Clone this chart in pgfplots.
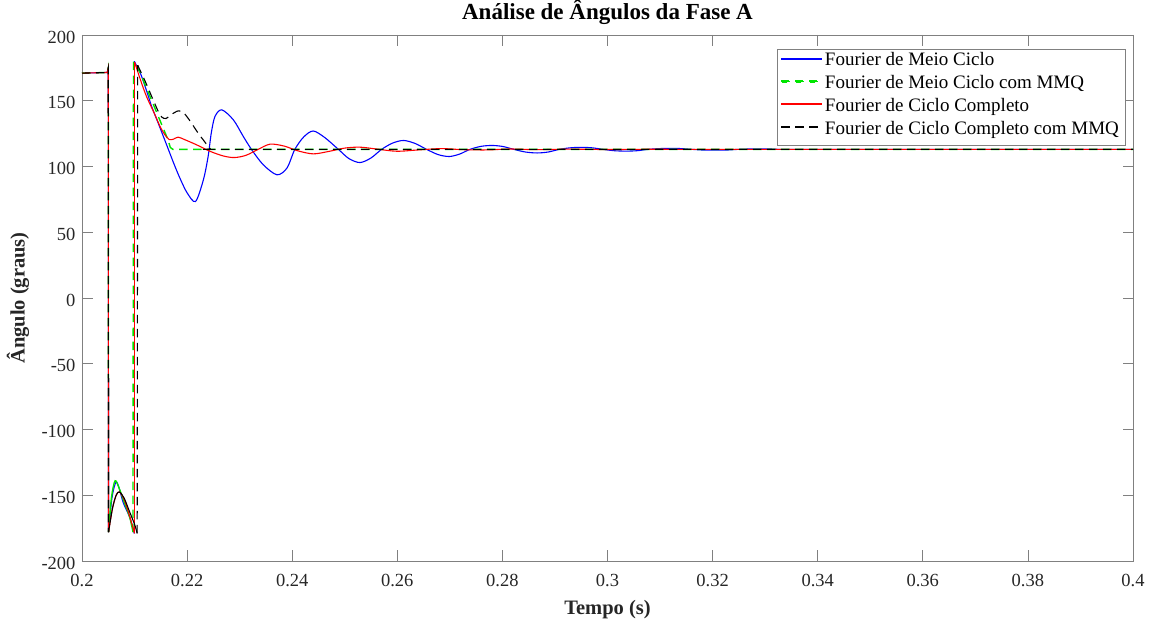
\documentclass[border=0pt]{standalone}
\usepackage{fontspec}
\setmainfont{Liberation Serif}
\usepackage{pgfplots}
\pgfplotsset{compat=1.18}
\definecolor{mblue}{rgb}{0,0,1}
\definecolor{mgreen}{rgb}{0,0.9,0}
\definecolor{mred}{rgb}{1,0,0}
\definecolor{axgray}{rgb}{0.5,0.5,0.5}
\definecolor{txtgray}{rgb}{0.15,0.15,0.15}
\begin{document}
\begin{tikzpicture}
\useasboundingbox (-82pt,-60pt) rectangle (1072pt,561pt);
\begin{axis}[
  at={(0pt,0pt)}, anchor=south west,
  scale only axis, width=1051pt, height=526pt,
  xmin=0.2, xmax=0.4, ymin=-200, ymax=200,
  xtick={0.2,0.22,0.24,0.26,0.28,0.3,0.32,0.34,0.36,0.38,0.4},
  xticklabels={0.2,0.22,0.24,0.26,0.28,0.3,0.32,0.34,0.36,0.38,0.4},
  ytick={-200,-150,-100,-50,0,50,100,150,200},
  yticklabels={-200,-150,-100,-50,0,50,100,150,200},
  tick align=inside, major tick length=10.5pt,
  axis line style={axgray, line width=0.8pt},
  every tick/.style={axgray, line width=0.8pt},
  ticklabel style={font=\fontsize{18.5}{20}\selectfont, text=txtgray},
  xticklabel style={yshift=-10pt},
  yticklabel style={xshift=-3pt, yshift=-2pt},
  every axis title shift=0pt,
  title={Análise de Ângulos da Fase A},
  title style={font=\bfseries\fontsize{23}{26}\selectfont, text=black, at={(axis description cs:0.5,1.0304)}, anchor=base},
  xlabel={Tempo (s)},
  xlabel style={font=\bfseries\fontsize{20.5}{24}\selectfont, text=txtgray, at={(axis description cs:0.5,-0.0920)}, anchor=center},
  ylabel={Ângulo (graus)},
  ylabel style={font=\bfseries\fontsize{20.5}{24}\selectfont, text=txtgray, at={(axis description cs:-0.0609,0.5)}, anchor=center, rotate=0},
  legend style={name=leg, at={(0.9924,0.9724)}, anchor=north east, draw=none, fill=white,
    font=\fontsize{19}{22}\selectfont,
    nodes={text height=11pt, text depth=6pt, inner sep=2.9pt}},
  legend cell align=left,
]
% ---------------- Blue: Fourier de Meio Ciclo ----------------
\addplot[mblue, line width=1.1pt,
  legend image code/.code={\fill[mblue] (0pt,3.95pt) rectangle (40pt,5.05pt);}] coordinates {
(0.2,171) (0.2048,171.5) (0.2050,175) (0.20505,-178)};
\addlegendentry{Fourier de Meio Ciclo}
\addplot[mblue, line width=1.1pt, smooth, forget plot] coordinates {
(0.20505,-178) (0.2057,-152) (0.20647,-140) (0.2071,-145) (0.20786,-155.8) (0.2091,-167) (0.20995,-179)};
\addplot[mblue, line width=1.1pt, forget plot] coordinates {
(0.20995,-179) (0.20995,180)};
\addplot[mblue, line width=1.1pt, smooth, forget plot] coordinates {
(0.20995,180) (0.2112,170) (0.2125,155) (0.21326,145.6) (0.2145,133) (0.2161,116.5) (0.2175,102)
(0.21865,91) (0.2200,80) (0.2216,73.4) (0.2231,89.9) (0.2240,107.6) (0.2246,125.4) (0.2253,138)
(0.2266,143.1) (0.2288,135.5) (0.2307,122.8) (0.2323,112.7) (0.2345,101.3) (0.2371,93.7) (0.2390,98.8)
(0.2405,113) (0.2422,122.5) (0.2440,127) (0.2462,122) (0.2488,113) (0.2508,106) (0.2529,103)
(0.2550,106.5) (0.2570,113) (0.2591,117.8) (0.2612,119.8) (0.2634,117.5) (0.2656,113) (0.2678,109)
(0.2699,107.6) (0.2719,109.5) (0.2738,113) (0.2759,115.3) (0.2780,116) (0.2801,115.2) (0.2822,113)
(0.2844,111) (0.2866,110.3) (0.2887,111) (0.2908,113) (0.2929,114.2) (0.2950,114.6) (0.2971,114.2)
(0.2992,113) (0.3013,112) (0.3035,111.7) (0.3056,112) (0.3077,113) (0.3098,113.6) (0.3120,113.8)
(0.3141,113.6) (0.3162,113) (0.3183,112.5) (0.3205,112.4) (0.3226,112.5) (0.3247,113) (0.3268,113.3)
(0.3290,113.4) (0.3311,113.3) (0.3332,113) (0.34,113) (0.37,113) (0.40,113)};

% ---------------- Green: Meio Ciclo com MMQ ----------------
\addplot[mgreen, line width=1.4pt, dash pattern=on 8.5pt off 5.5pt,
  legend image code/.code={\fill[fill=mgreen] (0pt,3.8pt) rectangle (8.5pt,5.2pt);
    \fill[fill=mgreen] (14pt,3.8pt) rectangle (22.5pt,5.2pt);
    \fill[fill=mgreen] (28pt,3.8pt) rectangle (36.5pt,5.2pt);}] coordinates {
(0.2,171) (0.2048,171.5) (0.2050,175) (0.20505,-178)};
\addlegendentry{Fourier de Meio Ciclo com MMQ}
\addplot[mgreen, line width=1.4pt, smooth, forget plot] coordinates {
(0.20505,-178) (0.2056,-152) (0.2063,-139) (0.2071,-145) (0.2081,-156) (0.2091,-167) (0.2097,-178)};
\addplot[mgreen, line width=1.4pt, dash pattern=on 8.5pt off 5.5pt, forget plot] coordinates {
(0.2097,-178) (0.2098,180) (0.2110,172) (0.2164,120) (0.2168,114.5) (0.2173,113) (0.25,113) (0.30,113) (0.35,113) (0.40,113)};

% ---------------- Red: Ciclo Completo ----------------
\addplot[mred, line width=1.1pt,
  legend image code/.code={\fill[mred] (0pt,3.95pt) rectangle (40pt,5.05pt);}] coordinates {
(0.2,171) (0.2048,171.5) (0.2050,175) (0.20505,-178)};
\addlegendentry{Fourier de Ciclo Completo}
\addplot[mred, line width=1.1pt, smooth, forget plot] coordinates {
(0.20505,-178) (0.2058,-160) (0.2065,-150) (0.2071,-147.5) (0.2080,-153) (0.2090,-165) (0.2100,-179)};
\addplot[mred, line width=1.1pt, forget plot] coordinates {
(0.2100,-179) (0.2100,179.5)};
\addplot[mred, line width=1.1pt, smooth, forget plot] coordinates {
(0.2100,179.5) (0.2112,165) (0.2123,153) (0.2137,141) (0.2149,130) (0.2158,124) (0.2166,120.5)
(0.2174,120.8) (0.2183,122.3) (0.2195,120.5) (0.2218,116.5) (0.2244,111.5) (0.2269,108) (0.2290,106.8)
(0.2312,108.5) (0.2335,113) (0.2358,117) (0.2385,115.5) (0.2410,112) (0.2440,109.6) (0.2470,111.5)
(0.2500,114) (0.2529,114.7) (0.2562,113.2) (0.2599,111.6) (0.2640,112.6) (0.2684,113.6) (0.2725,112.8)
(0.2770,112.6) (0.2815,113.3) (0.2865,112.8) (0.2930,113.2) (0.3000,112.9) (0.3080,113.1) (0.3200,113)
(0.35,113) (0.40,113)};

% ---------------- Black: Ciclo Completo com MMQ ----------------
\addplot[black, line width=1.1pt, dash pattern=on 8.5pt off 5.5pt,
  legend image code/.code={\fill[black] (0pt,3.95pt) rectangle (8.5pt,5.05pt);
    \fill[black] (14pt,3.95pt) rectangle (22.5pt,5.05pt);
    \fill[black] (28pt,3.95pt) rectangle (36.5pt,5.05pt);}] coordinates {
(0.2,171) (0.2048,171.5) (0.2050,175) (0.20505,-178)};
\addlegendentry{Fourier de Ciclo Completo com MMQ}
\addplot[black, line width=1.1pt, smooth, forget plot] coordinates {
(0.20505,-178) (0.2058,-160) (0.2065,-150) (0.2071,-147.5) (0.2080,-152) (0.2090,-162) (0.2100,-172) (0.2105,-179)};
\addplot[black, line width=1.1pt, dash pattern=on 8.5pt off 5.5pt, forget plot] coordinates {
(0.2105,-179) (0.2106,177)};
\addplot[black, line width=1.1pt, dash pattern=on 8.5pt off 5.5pt, smooth, forget plot] coordinates {
(0.2106,177) (0.2120,165) (0.2135,151) (0.2145,142) (0.2152,137.5) (0.2160,136.5) (0.2170,139.5)
(0.2183,142.3) (0.2193,141) (0.2205,135) (0.2220,126) (0.2235,118) (0.2244,113.5) (0.2252,113)
(0.26,113) (0.30,113) (0.35,113) (0.40,113)};
\end{axis}
\draw[axgray, line width=0.8pt] (leg.south west) rectangle (leg.north east);
\end{tikzpicture}
\end{document}
